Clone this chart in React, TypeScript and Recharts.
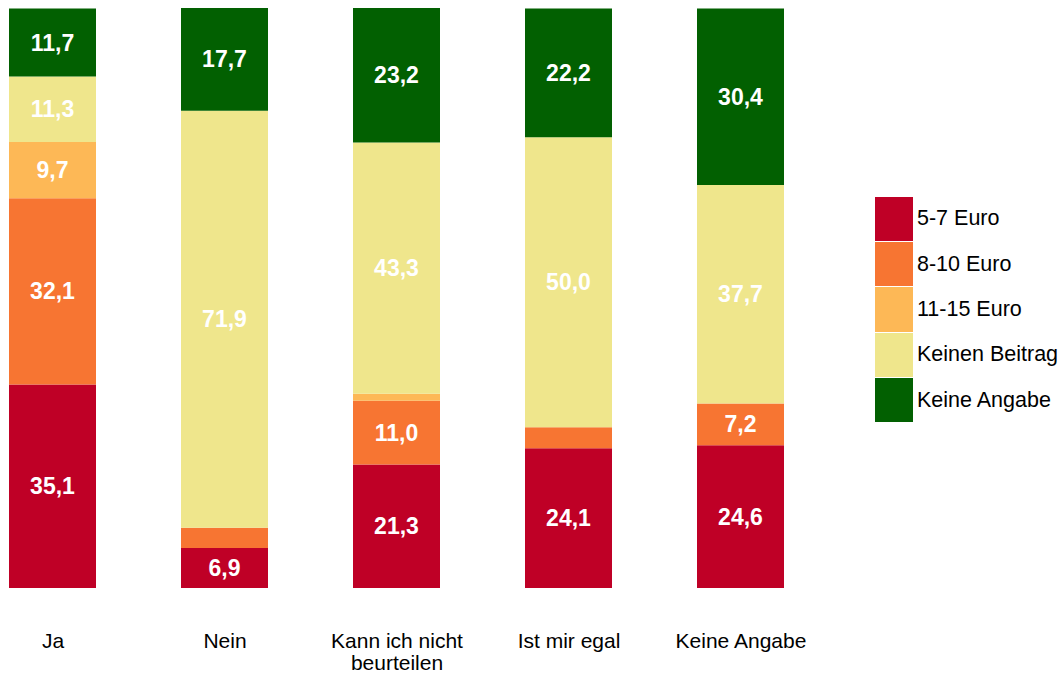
import { BarChart, Bar, XAxis, YAxis, LabelList } from "recharts";

const categories = ["Ja", "Nein", "Kann ich nicht\nbeurteilen", "Ist mir egal", "Keine Angabe"];
const euro5to7 = [35.1, 6.9, 21.3, 24.1, 24.6];
const euro8to10 = [32.1, 3.5, 11.0, 3.6, 7.2];
const euro11to15 = [9.7, 0, 1.2, 0, 0];
const keinenBeitrag = [11.3, 71.9, 43.3, 50.0, 37.7];
const keineAngabe = [11.7, 17.7, 23.2, 22.2, 30.4];

const series = [
  { key: "e57", name: "5-7 Euro", color: "#bf0026" },
  { key: "e810", name: "8-10 Euro", color: "#f77532" },
  { key: "e1115", name: "11-15 Euro", color: "#fdb856" },
  { key: "kb", name: "Keinen Beitrag", color: "#efe68c" },
  { key: "ka", name: "Keine Angabe", color: "#026001" },
];

const data = categories.map((c, i) => ({
  idx: i,
  name: c,
  e57: euro5to7[i],
  e810: euro8to10[i],
  e1115: euro11to15[i],
  kb: keinenBeitrag[i],
  ka: keineAngabe[i],
}));

const FONT = "'Liberation Sans', Arial, sans-serif";

const SegmentLabel = (props: any) => {
  const { x, y, width, height, value } = props;
  if (value == null || value < 5) return null;
  return (
    <text
      x={x + width / 2}
      y={y + height / 2}
      textAnchor="middle"
      dominantBaseline="central"
      fill="#ffffff"
      fontFamily={FONT}
      fontWeight="bold"
      fontSize={23}
    >
      {value.toFixed(1).replace(".", ",")}
    </text>
  );
};

const CategoryTick = (props: any) => {
  const { x, y, payload } = props;
  const lines = categories[payload.value].split("\n");
  return (
    <g>
      {lines.map((l, i) => (
        <text
          key={i}
          x={x}
          y={y + 52 + i * 22}
          textAnchor="middle"
          fill="#000"
          fontFamily={FONT}
          fontSize={21}
        >
          {l}
        </text>
      ))}
    </g>
  );
};

// legend drawn beside the chart, top-down in stack order
const LegendBox = () => (
  <div style={{ position: "absolute", left: 875, top: 196, fontFamily: FONT, fontSize: 21.5 }}>
    {series.map((s) => (
      <div key={s.key} style={{ display: "flex", alignItems: "center", height: 45.4 }}>
        <div style={{ width: 38, height: 44.4, background: s.color, marginRight: 4 }} />
        <span style={{ color: "#000", whiteSpace: "nowrap" }}>{s.name}</span>
      </div>
    ))}
  </div>
);

export default function App() {
  return (
    <div style={{ position: "absolute", left: 0, top: 0, width: 1061, height: 673 }}>
      <BarChart
        width={1061}
        height={673}
        data={data}
        margin={{ top: 8, right: 277, bottom: 0, left: 10 }}
      >
        <XAxis
          dataKey="idx"
          type="number"
          domain={[-0.25, 4.25]}
          ticks={[0, 1, 2, 3, 4]}
          axisLine={false}
          tickLine={false}
          height={85}
          tick={<CategoryTick />}
          interval={0}
        />
        <YAxis hide domain={[0, 100]} type="number" />
        {series.map((s) => (
          <Bar
            key={s.key}
            dataKey={s.key}
            name={s.name}
            stackId="a"
            fill={s.color}
            barSize={87}
            isAnimationActive={false}
          >
            <LabelList dataKey={s.key} content={<SegmentLabel />} />
          </Bar>
        ))}
      </BarChart>
      <LegendBox />
    </div>
  );
}
